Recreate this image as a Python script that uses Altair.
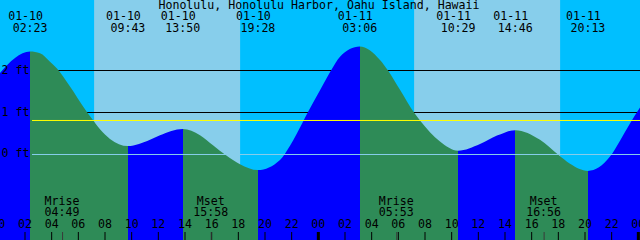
import altair as alt
import pandas as pd

TITLE = "Honolulu, Honolulu Harbor, Oahu Island, Hawaii"
FONT = "DejaVu Sans Mono"
FS = 11.6

NIGHT = "#00BFFF"
DAY = "#87CEEB"
FLOOD = "#0000FF"
EBB = "#2E8B57"
MSL_COLOR = "#FFFF00"
DATUM_COLOR = "#87CEEB"

# tide height readings: hours since 01-10 00:00 and feet
hours = [0.125, 1.25, 2.383, 3.125, 3.875, 4.4, 5.375, 6.5, 7.025, 7.625, 8.375,
         9.717, 11.375, 12.125, 13.833, 15.125, 16.1, 17.075, 18.125, 19.467,
         21.125, 21.875, 22.85, 23.225, 24.125, 24.95, 25.625, 27.1, 28.625,
         29.225, 30.125, 31.175, 31.625, 33.125, 34.483, 36.125, 37.4, 38.767, 40.625,
         41.975, 42.875, 44.217, 45.875, 46.625, 47.375, 48.125]
heights = [1.94, 2.30, 2.45, 2.41, 2.21, 2.05, 1.62, 1.08, 0.85, 0.60, 0.37,
           0.20, 0.35, 0.46, 0.61, 0.46, 0.22, -0.02, -0.23, -0.37,
           -0.13, 0.21, 0.78, 1.01, 1.53, 2.0, 2.33, 2.57, 2.25,
           2.0, 1.54, 1.0, 0.81, 0.31, 0.09, 0.25, 0.45, 0.58, 0.35,
           0.0, -0.22, -0.39, -0.05, 0.33, 0.74, 1.12]

# high / low tide events
event_dates = ["01-10", "01-10", "01-10", "01-10", "01-11", "01-11", "01-11", "01-11"]
event_times = ["02:23", "09:43", "13:50", "19:28", "03:06", "10:29", "14:46", "20:13"]
event_days = [0, 0, 0, 0, 1, 1, 1, 1]
rising_at_start = True

# moon events
moon_names = ["Mrise", "Mset", "Mrise", "Mset"]
moon_times = ["04:49", "15:58", "05:53", "16:56"]
moon_days = [0, 0, 1, 1]

# sun
sunrise_times = ["07:11", "07:11"]
sunset_times = ["18:08", "18:08"]
sun_days = [0, 1]

# axes
x_start, x_end = 0.125, 48.125
y_min, y_max = -2.036, 3.679
grid_ft = [1, 2]
datum_ft = [0]
msl_ft = [0.81]
ft_labels = [0, 1, 2]
tick_hours = list(range(0, 49, 2))


def to_h(t, d):
    hh, mm = t.split(":")
    return d * 24 + int(hh) + int(mm) / 60


X = lambda f: alt.X(f, type="quantitative",
                    scale=alt.Scale(domain=[x_start, x_end], nice=False, zero=False),
                    axis=None)
Y = lambda f: alt.Y(f, type="quantitative",
                    scale=alt.Scale(domain=[y_min, y_max], nice=False, zero=False),
                    axis=None)

tide_df = pd.DataFrame({"h": hours, "ft": heights})
tide_df["base"] = y_min

ev_h = [to_h(t, d) for t, d in zip(event_times, event_days)]
ev_df = pd.DataFrame({"h": ev_h, "date": event_dates, "time": event_times})

moon_df = pd.DataFrame({"h": [to_h(t, d) for t, d in zip(moon_times, moon_days)],
                        "name": moon_names, "time": moon_times})

sun_df = pd.DataFrame({"a": [to_h(t, d) for t, d in zip(sunrise_times, sun_days)],
                       "b": [to_h(t, d) for t, d in zip(sunset_times, sun_days)]})

tick_df = pd.DataFrame({"h": tick_hours,
                        "lab": ["%02d" % (h % 24) for h in tick_hours],
                        "w": [3 if h % 24 == 0 else 1 for h in tick_hours]})

# gradient fill for flood / ebb
span = x_end - x_start
bounds = [x_start] + ev_h + [x_end]
stops = []
rising = rising_at_start
for a, b in zip(bounds[:-1], bounds[1:]):
    c = FLOOD if rising else EBB
    stops.append(alt.GradientStop(color=c, offset=max(0.0, (a - x_start) / span)))
    stops.append(alt.GradientStop(color=c, offset=min(1.0, (b - x_start) / span)))
    rising = not rising
grad = alt.Gradient(gradient="linear", stops=stops, x1=0, x2=1, y1=0, y2=0)

day = alt.Chart(sun_df).mark_rect(color=DAY).encode(
    x=X("a"), x2="b", y=alt.value(0), y2=alt.value(240))

grid = alt.Chart(pd.DataFrame({"ft": grid_ft})).mark_rule(color="black", strokeWidth=1).encode(
    y=Y("ft"), x=alt.value(32), x2=alt.value(640))

water = alt.Chart(tide_df).mark_area(interpolate="monotone", color=grad).encode(
    x=X("h"), y=Y("ft"), y2="base:Q")

msl = alt.Chart(pd.DataFrame({"ft": msl_ft})).mark_rule(color=MSL_COLOR, strokeWidth=1).encode(
    y=Y("ft"), x=alt.value(32), x2=alt.value(640))
datum = alt.Chart(pd.DataFrame({"ft": datum_ft})).mark_rule(color=DATUM_COLOR, strokeWidth=1).encode(
    y=Y("ft"), x=alt.value(32), x2=alt.value(640))

ylab = alt.Chart(pd.DataFrame({"ft": ft_labels, "t": ["%d ft" % v for v in ft_labels]})).mark_text(
    font=FONT, fontSize=FS, align="left", baseline="middle", color="black").encode(
    x=alt.value(1.5), y=Y("ft"), text="t:N")

title = alt.Chart(pd.DataFrame({"t": [TITLE]})).mark_text(
    font=FONT, fontSize=FS, align="center", baseline="middle", color="black").encode(
    x=alt.value(319), y=alt.value(6), text="t:N")

ev_date = alt.Chart(ev_df).mark_text(
    font=FONT, fontSize=FS, align="center", baseline="middle", color="black", dx=-4.5).encode(
    x=X("h"), y=alt.value(17), text="date:N")
ev_time = alt.Chart(ev_df).mark_text(
    font=FONT, fontSize=FS, align="center", baseline="middle", color="black").encode(
    x=X("h"), y=alt.value(29), text="time:N")

moon_name = alt.Chart(moon_df).mark_text(
    font=FONT, fontSize=FS, align="center", baseline="middle", color="black", dx=-0.5).encode(
    x=X("h"), y=alt.value(202), text="name:N")
moon_time = alt.Chart(moon_df).mark_text(
    font=FONT, fontSize=FS, align="center", baseline="middle", color="black", dx=-0.5).encode(
    x=X("h"), y=alt.value(213), text="time:N")

hour_lab = alt.Chart(tick_df).mark_text(
    font=FONT, fontSize=FS, align="center", baseline="middle", color="black").encode(
    x=X("h"), y=alt.value(225), text="lab:N")

ticks = alt.Chart(tick_df).mark_rule(color="black").encode(
    x=X("h"), y=alt.value(232), y2=alt.value(240),
    strokeWidth=alt.StrokeWidth("w:Q", scale=None))

moon_ticks = alt.Chart(moon_df).mark_rule(color="#3a3a3a", strokeWidth=1).encode(
    x=X("h"), y=alt.value(232), y2=alt.value(240))

chart = alt.layer(
    day, grid, water, msl, datum, ylab, title, ev_date, ev_time,
    moon_name, moon_time, hour_lab, ticks, moon_ticks
).properties(
    width=640, height=240, padding=0, background=NIGHT,
    autosize=alt.AutoSizeParams(type="none")
).configure_view(stroke=None)

chart.save("out.html", embed_options={"renderer": "svg", "actions": False})
